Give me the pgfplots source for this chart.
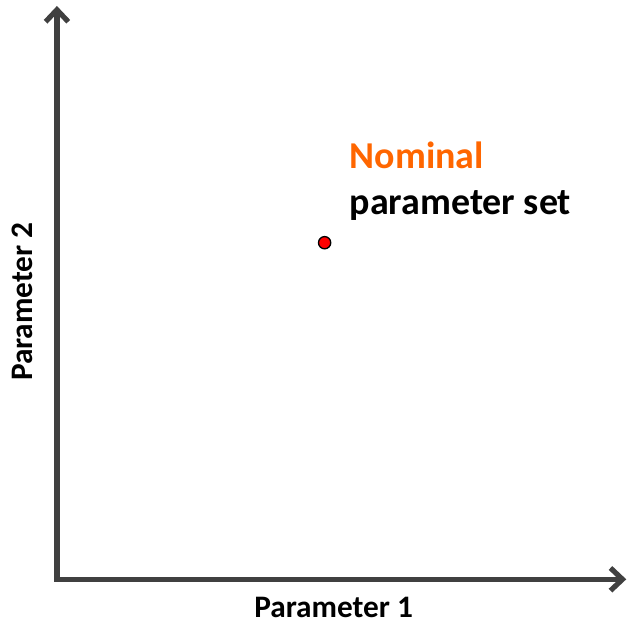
\documentclass[border=0pt]{standalone}
\usepackage{pgfplots}
\pgfplotsset{compat=1.18}
\usetikzlibrary{arrows.meta}
\usepackage{fontspec}
\setmainfont{Carlito}
\definecolor{axisgray}{HTML}{404040}
\definecolor{nomorange}{HTML}{FF6600}
\begin{document}
\begin{tikzpicture}
\begin{axis}[
  scale only axis,
  width=427.5pt, height=430.5pt,
  xmin=0, xmax=1, ymin=0, ymax=1,
  axis lines=left,
  axis line style={axisgray, line width=3.9pt, line cap=rect, -{Straight Barb[length=9pt,width=17pt]}},
  ticks=none,
  clip=false,
  xlabel={\bfseries Parameter 1},
  ylabel={\bfseries Parameter 2},
  label style={font=\fontsize{23.5}{27}\selectfont},
  xlabel style={at={(rel axis cs:0.486,-0.0488)}, anchor=center},
  ylabel style={at={(rel axis cs:-0.0614,0.4843)}, anchor=center, rotate=0},
]
\path (rel axis cs:-0.1,-0.0836) rectangle (rel axis cs:1.0035,1.01045);
\addplot[only marks, mark=*, mark size=4.6pt,
  mark options={fill=red, draw=black, line width=1pt}]
  coordinates {(0.4702,0.5871)};
\node[anchor=base west, inner sep=0pt, text=nomorange,
  font=\fontsize{28.5}{32}\selectfont\bfseries] at (axis cs:0.514,0.716) {Nominal};
\node[anchor=base west, inner sep=0pt, text=black,
  font=\fontsize{28.5}{32}\selectfont\bfseries] at (axis cs:0.514,0.636) {parameter set};
\end{axis}
\end{tikzpicture}
\end{document}
